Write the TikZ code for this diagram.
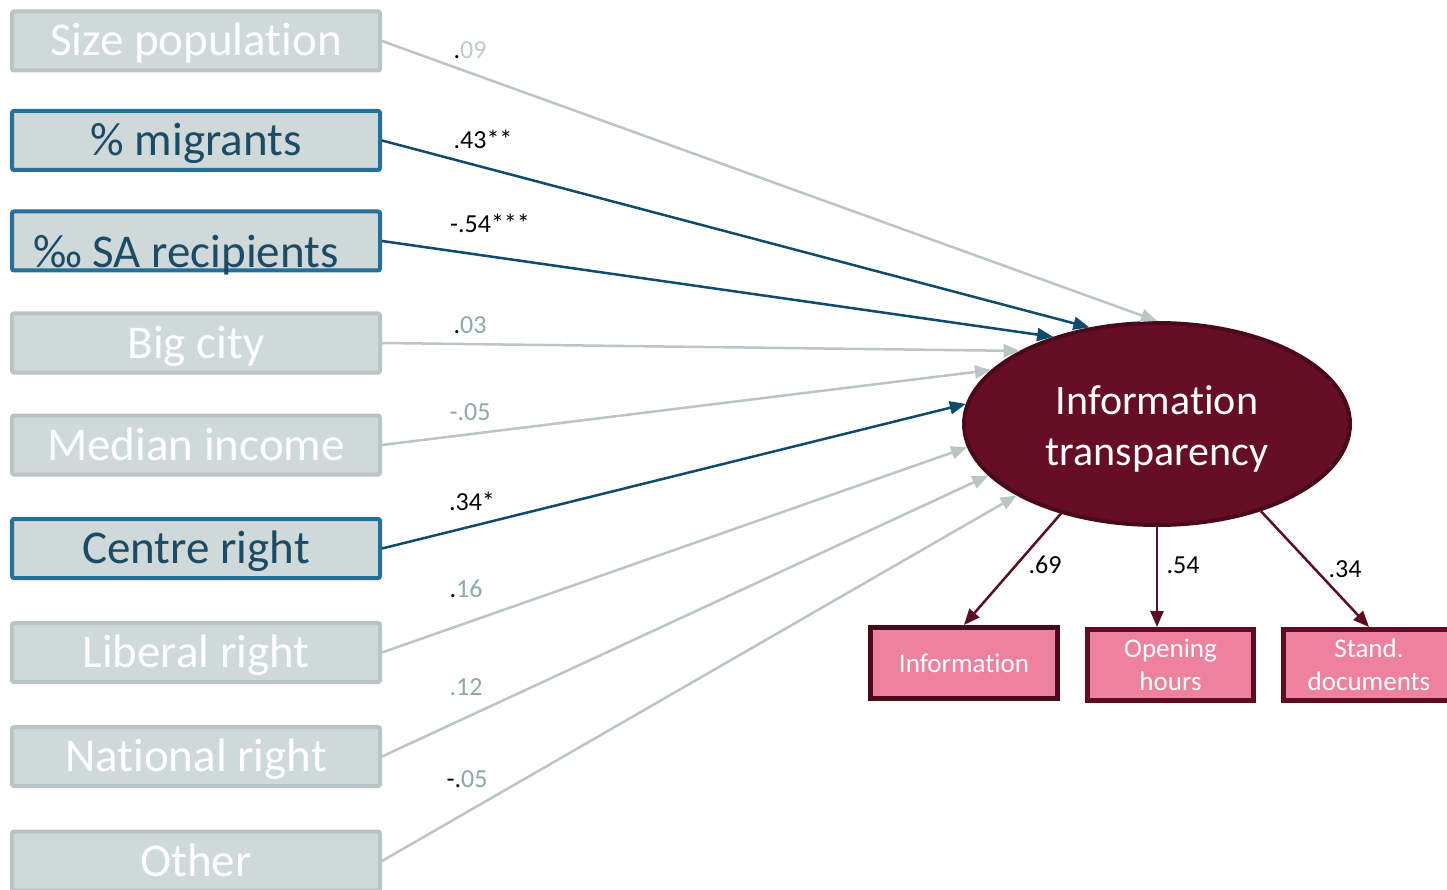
\documentclass[tikz,border=0pt]{standalone}
\usepackage{fontspec}
\setmainfont{Carlito}[Ligatures=NoCommon]
\usetikzlibrary{arrows.meta,shapes.geometric,calc}
\definecolor{boxfill}{HTML}{D0D9D9}
\definecolor{boxgray}{HTML}{B9C4C4}
\definecolor{boxblue}{HTML}{23709A}
\definecolor{txtblue}{HTML}{1C4B66}
\definecolor{arrgray}{HTML}{BBC5C5}
\definecolor{arrblue}{HTML}{0E4B6D}
\definecolor{ellfill}{HTML}{650E25}
\definecolor{elldraw}{HTML}{4B0A1B}
\definecolor{pinkfill}{HTML}{EE819E}
\definecolor{pinkdraw}{HTML}{5C0D21}
\definecolor{labgray}{HTML}{8EA8A8}
\definecolor{lablight}{HTML}{C2CACA}
\begin{document}
\begin{tikzpicture}[x=1pt,y=-1pt,
 var/.style={rectangle, rounded corners=2pt, fill=boxfill, line width=4pt,
   minimum width=368pt, minimum height=59pt, inner sep=0pt,
   font=\fontsize{47}{56}\selectfont, text height=38pt, text depth=8pt},
 grayvar/.style={var, draw=boxgray, text=white},
 bluevar/.style={var, draw=boxblue, text=txtblue},
 garr/.style={draw=arrgray, line width=2.5pt, -{Triangle[length=16pt,width=13pt,fill=arrgray]}},
 barr/.style={draw=arrblue, line width=2.5pt, -{Triangle[length=16pt,width=13pt,fill=arrblue]}},
 marr/.style={draw=pinkdraw, line width=2.5pt, -{Triangle[length=16pt,width=13pt,fill=pinkdraw]}},
 coef/.style={anchor=base, font=\fontsize{26}{30}\selectfont, inner sep=0pt},
 ind/.style={rectangle, fill=pinkfill, draw=pinkdraw, line width=5pt, minimum height=71pt,
   text=white, font=\fontsize{27}{33}\selectfont, align=center, inner sep=0pt}
]
\useasboundingbox (0,0) rectangle (1447,890);

% predictor boxes
\node[grayvar] (sp) at (196,41) {Size population};
\node[bluevar] (mig) at (196,140.5) {\% migrants};
\node[bluevar] (sa) at (196,241) {};
\node[anchor=base, inner sep=0pt, text=txtblue, font=\fontsize{47}{56}\selectfont] (satext) at (186,268) {‰ SA recipients};
\node[grayvar] (bc) at (196,343) {Big city};
\node[grayvar] (mi) at (196,445) {Median income};
\node[bluevar] (cr) at (196,548.5) {Centre right};
\node[grayvar] (lr) at (196,652.5) {Liberal right};
\node[grayvar] (nr) at (196,756.5) {National right};
\node[grayvar] (ot) at (196,861) {Other};

% latent variable
\node[ellipse, fill=ellfill, draw=elldraw, line width=4pt, minimum width=386pt,
  minimum height=202pt, inner sep=0pt] (it) at (1157,424) {};
\node[inner sep=0pt, text=white, align=center, font=\fontsize{42}{51}\selectfont]
  (ittext) at (1157,429) {Information\\transparency};

% indicator boxes
\node[ind, draw=elldraw, minimum width=187pt] (inf) at (964,663) {Information};
\node[ind, minimum width=166pt] (oh) at (1170.5,665) {Opening\\hours};
\node[ind, minimum width=171pt] (sd) at (1369,665) {Stand.\\documents};

% paths
\draw[garr] (sp.east) -- (it.90);
\draw[barr] (mig.east) -- (it.125.5);
\draw[barr] (sa.east) -- (it.140);
\draw[garr] (bc.east) -- (it.152.6);
\draw[garr] (mi.east) -- (it.162.7);
\draw[barr] (cr.east) -- (it.174.4);
\draw[garr] (lr.east) -- (it.187.9);
\draw[garr] (nr.east) -- (it.197.9);
\draw[garr] (ot.east) -- (it.207.4);

\draw[marr] (it.223.5) -- (inf.north);
\draw[marr] (it.270) -- (it.270 |- oh.north);
\draw[marr] (it.320.4) -- (sd.north);

% coefficients
\node[coef] (c1) at (470,59) {.\textcolor{lablight}{09}};
\node[coef] (c2) at (483,149) {.43**};
\node[coef] (c3) at (490,233) {-.54***};
\node[coef] (c4) at (470,333) {.\textcolor{labgray}{03}};
\node[coef, text=labgray] (c5) at (470,420) {-.05};
\node[coef] (c6) at (472,510) {.34*};
\node[coef] (c7) at (466,597) {.\textcolor{labgray}{16}};
\node[coef, text=labgray] (c8) at (466,695) {.12};
\node[coef] (c9) at (467,787) {-.\textcolor{labgray}{05}};

\node[coef] (l1) at (1045,573) {.69};
\node[coef] (l2) at (1183,573) {.54};
\node[coef] (l3) at (1345,577) {.34};
\end{tikzpicture}
\end{document}
